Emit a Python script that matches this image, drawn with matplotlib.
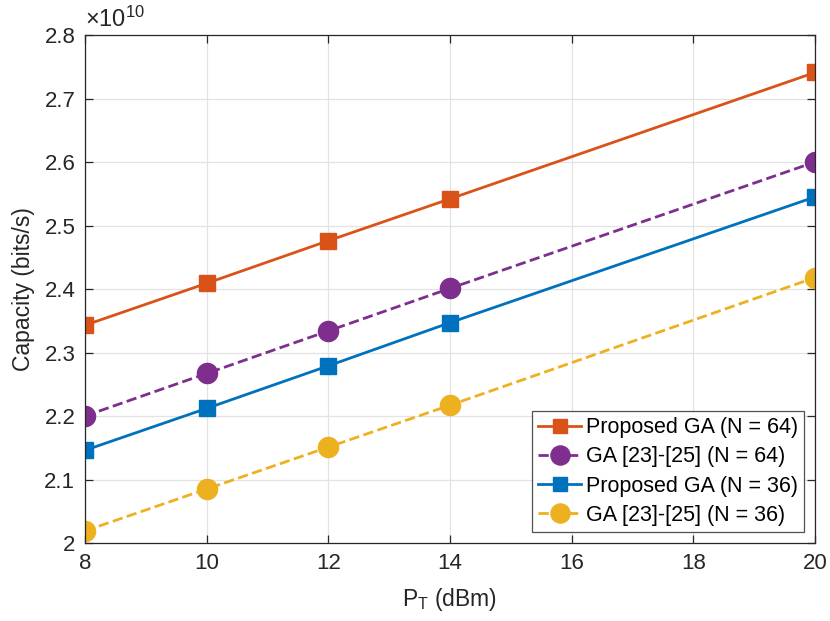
import matplotlib
matplotlib.use("Agg")
import matplotlib.pyplot as plt
from matplotlib.ticker import FuncFormatter

plt.rcParams['font.family'] = ['Liberation Sans', 'DejaVu Sans']
plt.rcParams['mathtext.fontset'] = 'custom'
plt.rcParams['mathtext.rm'] = 'Liberation Sans'
plt.rcParams['mathtext.it'] = 'Liberation Sans'

# Transmit power (dBm)
pt_dbm = [8, 10, 12, 14, 20]

# Capacity (bits/s)
proposed_n64 = [2.343e10, 2.409e10, 2.476e10, 2.542e10, 2.741e10]
ga_n64 = [2.200e10, 2.267e10, 2.334e10, 2.401e10, 2.600e10]
proposed_n36 = [2.146e10, 2.212e10, 2.279e10, 2.347e10, 2.545e10]
ga_n36 = [2.019e10, 2.085e10, 2.151e10, 2.217e10, 2.418e10]

labels = ["Proposed GA (N = 64)", "GA [23]-[25] (N = 64)",
          "Proposed GA (N = 36)", "GA [23]-[25] (N = 36)"]

x_ticks = [8, 10, 12, 14, 16, 18, 20]
y_ticks = [2.0e10, 2.1e10, 2.2e10, 2.3e10, 2.4e10, 2.5e10, 2.6e10, 2.7e10, 2.8e10]

fig = plt.figure(figsize=(8.3, 6.21), dpi=100)
ax = fig.add_axes([0.1024, 0.1256, 0.8795, 0.818])

axis_col = '#262626'
ax.plot(pt_dbm, proposed_n64, '-', color='#D95319', lw=2.0, marker='s', ms=11, label=labels[0])
ax.plot(pt_dbm, ga_n64, '--', color='#7E2F8E', lw=2.0, marker='o', ms=14.5, label=labels[1])
ax.plot(pt_dbm, proposed_n36, '-', color='#0072BD', lw=2.0, marker='s', ms=11, label=labels[2])
ax.plot(pt_dbm, ga_n36, '--', color='#EDB120', lw=2.0, marker='o', ms=14.5, label=labels[3])

ax.set_xlim(8, 20)
ax.set_ylim(2.0e10, 2.8e10)
ax.set_xticks(x_ticks)
ax.set_yticks(y_ticks)
ax.yaxis.set_major_formatter(FuncFormatter(lambda v, p: '%g' % round(v / 1e10, 3)))

ax.grid(True, color='#e3e3e3', lw=0.9)
ax.set_axisbelow(True)
for s in ax.spines.values():
    s.set_color(axis_col)
    s.set_linewidth(0.9)
ax.tick_params(direction='in', length=6, width=0.9, colors=axis_col,
               labelsize=16, top=True, right=True, pad=7)
for lab in ax.get_xticklabels() + ax.get_yticklabels():
    lab.set_color('#262626')

ax.text(0.0, 1.006, r'$\times 10^{10}$', transform=ax.transAxes, fontsize=17,
        color=axis_col, ha='left', va='bottom')

ax.set_xlabel(r'P$_\mathregular{T}$ (dBm)', fontsize=16.5, color=axis_col, labelpad=9)
ax.set_ylabel('Capacity (bits/s)', fontsize=16.5, color=axis_col, labelpad=7)

leg = ax.legend(loc='lower right', fontsize=15.5, frameon=True, fancybox=False,
                edgecolor=axis_col, handlelength=2.0, handletextpad=0.2,
                borderpad=0.3, labelspacing=0.38, borderaxespad=0.5,
                markerscale=0.95)
leg.get_frame().set_linewidth(0.9)

fig.savefig('out.png', dpi=100)
